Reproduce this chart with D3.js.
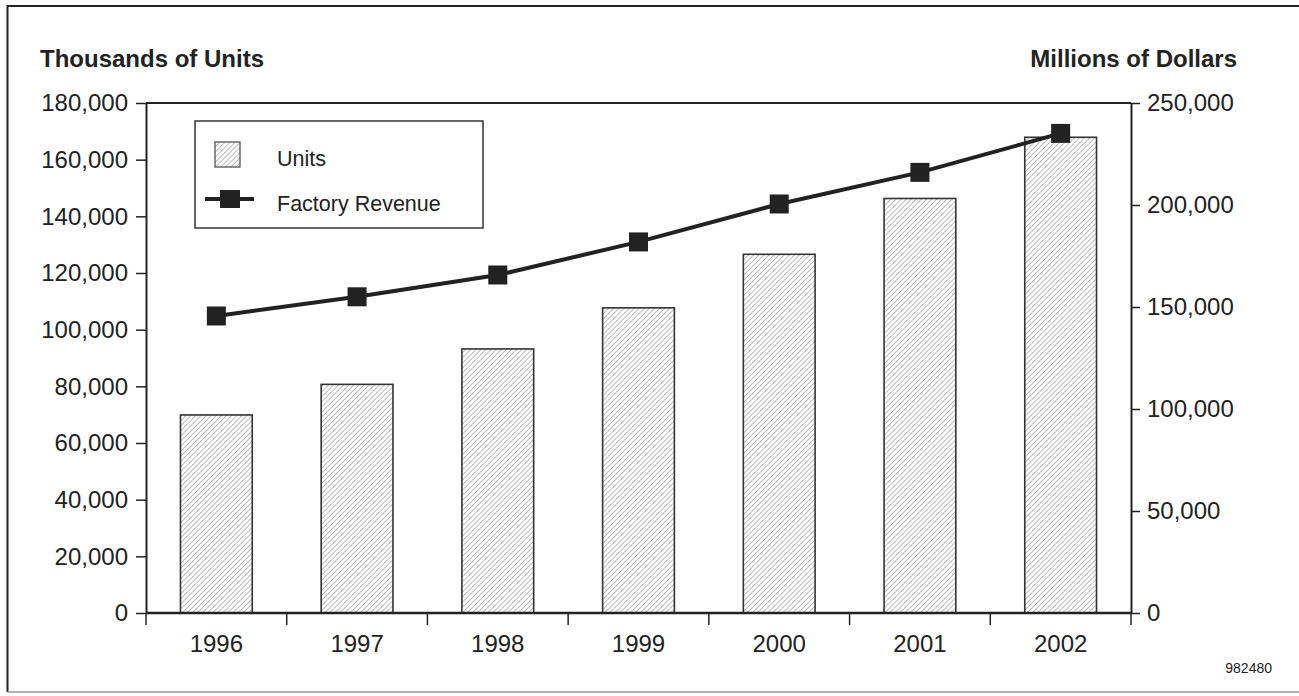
<!DOCTYPE html>
<html>
<head>
<meta charset="utf-8">
<script src="https://cdn.jsdelivr.net/npm/d3@7"></script>
<style>
  html, body { margin: 0; padding: 0; background: #fff; }
  svg { display: block; font-family: "Liberation Sans", Arial, Helvetica, sans-serif; }
</style>
</head>
<body>
<svg id="chart" width="1299" height="696"></svg>
<script>
// Unit shipments (thousands) and factory revenue (millions of dollars) by year
const years = ["1996", "1997", "1998", "1999", "2000", "2001", "2002"];
const units = [69900, 80700, 93200, 107700, 126600, 146300, 167900];
const revenue = [145600, 155000, 165700, 181900, 200500, 216000, 235100];
const unitTicks = [0, 20000, 40000, 60000, 80000, 100000, 120000, 140000, 160000, 180000];
const revenueTicks = [0, 50000, 100000, 150000, 200000, 250000];
const legendLabels = ["Units", "Factory Revenue"];

const ink = "#222";
const svg = d3.select("#chart");

// Hatched fill for the unit bars
const defs = svg.append("defs");
const hs = 3.6;
const pat = defs.append("pattern")
  .attr("id", "hatch")
  .attr("patternUnits", "userSpaceOnUse")
  .attr("width", hs).attr("height", hs)
  .attr("patternTransform", "rotate(45)");
pat.append("rect").attr("width", hs).attr("height", hs).attr("fill", "#fff");
pat.append("line")
  .attr("x1", 0).attr("y1", 0).attr("x2", 0).attr("y2", hs)
  .attr("stroke", "#a8a8a8").attr("stroke-width", 1.5);

// Outer frame: dark top and left edges, fainter bottom edge
svg.append("path")
  .attr("d", "M1299,6 H7.5 V692")
  .attr("fill", "none").attr("stroke", ink).attr("stroke-width", 2);
svg.append("line")
  .attr("x1", 7.5).attr("x2", 1299).attr("y1", 692).attr("y2", 692)
  .attr("stroke", "#999").attr("stroke-width", 1.5);

const plotL = 146, plotR = 1131, plotT = 103, plotB = 613;

const x = d3.scaleBand().domain(years).range([plotL, plotR])
  .paddingInner(0.49).paddingOuter(0.245);
const xEdge = d3.scaleLinear().domain([0, years.length]).range([plotL, plotR]);
const yL = d3.scaleLinear().domain([0, 180000]).range([plotB, plotT]);
const yR = d3.scaleLinear().domain([0, 250000]).range([plotB, plotT]);

// Bars
svg.append("g").selectAll("rect")
  .data(years)
  .join("rect")
  .attr("x", d => x(d))
  .attr("y", (d, i) => yL(units[i]))
  .attr("width", x.bandwidth())
  .attr("height", (d, i) => plotB - yL(units[i]))
  .attr("fill", "url(#hatch)")
  .attr("stroke", "#333")
  .attr("stroke-width", 1.6);

// Plot box top edge
svg.append("line")
  .attr("x1", plotL).attr("x2", plotR).attr("y1", plotT).attr("y2", plotT)
  .attr("stroke", ink).attr("stroke-width", 2);

// Left axis
const fmt = d3.format(",");
const gL = svg.append("g").attr("transform", `translate(${plotL},0)`)
  .call(d3.axisLeft(yL).tickValues(unitTicks).tickFormat(fmt)
    .tickSize(10).tickSizeOuter(0).tickPadding(8));
// Right axis
const gR = svg.append("g").attr("transform", `translate(${plotR},0)`)
  .call(d3.axisRight(yR).tickValues(revenueTicks).tickFormat(fmt)
    .tickSize(9).tickSizeOuter(0).tickPadding(7));
[gL, gR].forEach(g => {
  g.attr("font-family", null).attr("font-size", null);
  g.select(".domain").attr("stroke", ink).attr("stroke-width", 2);
  g.selectAll(".tick line").attr("stroke", ink).attr("stroke-width", 1.5);
  g.selectAll(".tick text").attr("fill", ink).attr("font-size", 24);
});

// Category axis: baseline, boundary ticks, year labels
svg.append("line")
  .attr("x1", plotL).attr("x2", plotR).attr("y1", plotB).attr("y2", plotB)
  .attr("stroke", ink).attr("stroke-width", 2.5);
svg.append("g").selectAll("line")
  .data(d3.range(years.length + 1))
  .join("line")
  .attr("x1", d => xEdge(d)).attr("x2", d => xEdge(d))
  .attr("y1", plotB).attr("y2", plotB + 12)
  .attr("stroke", ink).attr("stroke-width", 1.5);
svg.append("g").selectAll("text")
  .data(years)
  .join("text")
  .attr("x", d => x(d) + x.bandwidth() / 2)
  .attr("y", 652)
  .attr("text-anchor", "middle")
  .attr("font-size", 24)
  .attr("fill", ink)
  .text(d => d);

// Revenue line
const line = d3.line()
  .x((d, i) => x(years[i]) + x.bandwidth() / 2)
  .y(d => yR(d));
svg.append("path")
  .datum(revenue)
  .attr("d", line)
  .attr("fill", "none")
  .attr("stroke", ink)
  .attr("stroke-width", 4);
const m = 19;
svg.append("g").selectAll("rect")
  .data(revenue)
  .join("rect")
  .attr("x", (d, i) => x(years[i]) + x.bandwidth() / 2 - m / 2)
  .attr("y", d => yR(d) - m / 2)
  .attr("width", m).attr("height", m)
  .attr("fill", ink);

// Axis titles
svg.append("text").attr("x", 40).attr("y", 67)
  .attr("font-size", 24).attr("font-weight", "bold").attr("fill", ink)
  .text("Thousands of Units");
svg.append("text").attr("x", 1237).attr("y", 67)
  .attr("text-anchor", "end")
  .attr("font-size", 24).attr("font-weight", "bold").attr("fill", ink)
  .text("Millions of Dollars");

// Legend
const lg = svg.append("g");
lg.append("rect")
  .attr("x", 195).attr("y", 121).attr("width", 288).attr("height", 107)
  .attr("fill", "#fff").attr("stroke", "#333").attr("stroke-width", 1.5);
lg.append("rect")
  .attr("x", 215).attr("y", 142).attr("width", 25).attr("height", 25)
  .attr("fill", "url(#hatch)").attr("stroke", "#555").attr("stroke-width", 1.3);
lg.append("line")
  .attr("x1", 205).attr("x2", 254).attr("y1", 199).attr("y2", 199)
  .attr("stroke", ink).attr("stroke-width", 4);
lg.append("rect")
  .attr("x", 220).attr("y", 190).attr("width", 20).attr("height", 18)
  .attr("fill", ink);
lg.selectAll("text.lab")
  .data(legendLabels)
  .join("text")
  .attr("class", "lab")
  .attr("x", 277)
  .attr("y", (d, i) => [166, 211][i])
  .attr("font-size", 21.5)
  .attr("fill", ink)
  .text(d => d);

// Figure reference number
svg.append("text")
  .attr("x", 1272).attr("y", 673)
  .attr("text-anchor", "end")
  .attr("font-size", 14)
  .attr("fill", ink)
  .text("982480");
</script>
</body>
</html>
